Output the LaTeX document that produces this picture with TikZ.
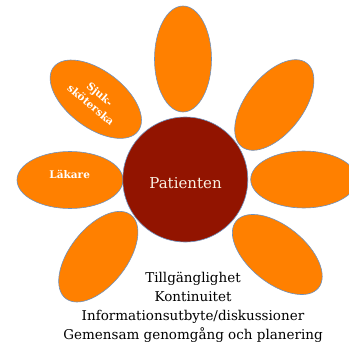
\documentclass[tikz,border=0pt]{standalone}
\usepackage{fontspec}
\setmainfont{DejaVu Serif}
\usetikzlibrary{shapes.geometric, positioning}
\definecolor{petalorange}{RGB}{255,128,0}
\definecolor{patientred}{RGB}{146,20,0}
\definecolor{rimblue}{RGB}{110,145,190}
\definecolor{creamwhite}{RGB}{250,242,228}

\begin{document}
\begin{tikzpicture}[x=1pt, y=-1pt,
  petal/.style={ellipse, draw=rimblue, line width=0.6pt, fill=petalorange, minimum width=106pt, minimum height=57pt, inner sep=0pt},
  petaltext/.style={text=white, font=\fontsize{10.5}{14}\selectfont\bfseries, align=center, inner sep=0pt},
  hub/.style={circle, draw=rimblue, line width=0.6pt, fill=patientred, minimum size=125pt, inner sep=0pt}]
\useasboundingbox (0,0) rectangle (349,343);
\node[petal, rotate=90] (top) at (183,59) {};
\node[petal, rotate=52] (upright) at (274.3,105) {};
\node[petal] (right) at (303.7,179.5) {};
\node[petal, rotate=-39] (lowright) at (277.3,254.5) {};
\node[petal, rotate=52] (lowleft) at (98.3,256.7) {};
\node[petal] (left) at (70,180) {};
\node[petal, rotate=-37] (upleft) at (95.8,99.2) {};
\node[hub] (patient) at (185.3,179.5) {};
\node[text=creamwhite, font=\fontsize{15}{18}\selectfont] (patientlabel) at (185.5,183) {Patienten};
\node[petaltext] (doctor) at (69.7,174.3) {Läkare};
\node[petaltext, rotate=-40] (nurse) at (95.5,99.5) {Sjuk-\\sköterska};
\node[align=center, inner sep=0pt, font=\fontsize{13.5}{19}\selectfont] (aims) at (193,307) {Tillgänglighet\\Kontinuitet\\Informationsutbyte/diskussioner\\Gemensam genomgång och planering};
\end{tikzpicture}
\end{document}
